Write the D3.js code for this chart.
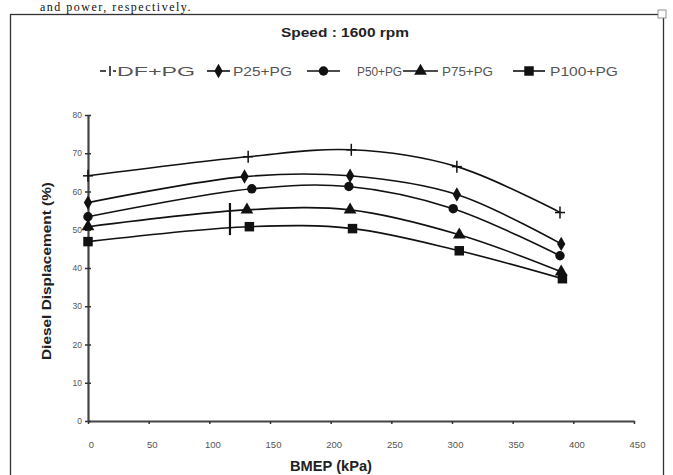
<!DOCTYPE html>
<html><head><meta charset="utf-8">
<script src="https://cdn.jsdelivr.net/npm/d3@7"></script>
<style>body{margin:0;background:#fff}svg{display:block}</style>
</head><body>
<svg id="c" width="673" height="475"></svg>
<script>
const bmep = [0, 132, 217, 304, 389];
const bmepP25 = [0, 129, 216, 304, 390];
const bmepP50 = [0, 135, 215, 301, 389];
const bmepP75 = [0, 131, 216, 306, 390];
const bmepP100 = [0, 133, 218, 306, 391];
const dfPG = [64.1, 69.1, 70.9, 66.5, 54.5];
const p25PG = [57.1, 63.9, 64.1, 59.2, 46.3];
const p50PG = [53.4, 60.7, 61.3, 55.5, 43.2];
const p75PG = [50.8, 55.2, 55.2, 48.7, 39.0];
const p100PG = [46.9, 50.8, 50.3, 44.5, 37.2];
const seriesNames = ["DF+PG", "P25+PG", "P50+PG", "P75+PG", "P100+PG"];
const xTicks = [0, 50, 100, 150, 200, 250, 300, 350, 400, 450];
const yTicks = [0, 10, 20, 30, 40, 50, 60, 70, 80];
const strayBar = {x: 117, y0: 48.6, y1: 57};

const svg = d3.select("#c");
const x = d3.scaleLinear().domain([0, 450]).range([88, 634]);
const y = d3.scaleLinear().domain([0, 80]).range([421, 115]);
const FONT = "Liberation Sans, Arial";

// document text above
svg.append("text").attr("x", 40).attr("y", 11).attr("font-family", "Liberation Serif")
  .attr("font-size", 12).attr("fill", "#111").attr("letter-spacing", 1.5)
  .text("and power, respectively.");

// frame
svg.append("rect").attr("x", 10.5).attr("y", 14.5).attr("width", 653).attr("height", 480)
  .attr("fill", "none").attr("stroke", "#333").attr("stroke-width", 1.3);
svg.append("rect").attr("x", 658).attr("y", 10).attr("width", 8).attr("height", 8)
  .attr("fill", "#fff").attr("stroke", "#777").attr("stroke-width", 0.8);

// title
svg.append("text").attr("x", 345).attr("y", 37).attr("text-anchor", "middle")
  .attr("font-family", FONT).attr("font-weight", "bold").attr("font-size", 13)
  .attr("fill", "#222").attr("textLength", 128).attr("lengthAdjust", "spacingAndGlyphs")
  .text("Speed : 1600  rpm");

// axes
const gx = svg.append("g").attr("transform", `translate(0,${y(0)})`)
  .call(d3.axisBottom(x).tickValues(xTicks).tickSize(3).tickSizeOuter(0).tickPadding(17));
const gy = svg.append("g").attr("transform", `translate(${x(0)},0)`)
  .call(d3.axisLeft(y).tickValues(yTicks).tickSize(3).tickSizeOuter(0).tickPadding(3));
[gx, gy].forEach(g => {
  g.select(".domain").attr("stroke", "#444").attr("stroke-width", 2.2);
  g.selectAll(".tick line").attr("stroke", "#333").attr("stroke-width", 1.5);
  g.selectAll(".tick text").attr("font-family", FONT).attr("fill", "#555");
});
gx.selectAll(".tick text").attr("font-size", 9.5).attr("dx", 3);
gy.selectAll(".tick text").attr("font-size", 8.5);
gy.selectAll(".tick").append("line").attr("x2", 3).attr("stroke", "#333").attr("stroke-width", 1.5);

svg.append("text").attr("transform", "translate(51,271) rotate(-90)").attr("text-anchor", "middle")
  .attr("font-family", FONT).attr("font-weight", "bold").attr("font-size", 12)
  .attr("fill", "#222").attr("textLength", 178).attr("lengthAdjust", "spacingAndGlyphs")
  .text("Diesel Displacement (%)");
svg.append("text").attr("x", 331).attr("y", 471).attr("text-anchor", "middle")
  .attr("font-family", FONT).attr("font-weight", "bold").attr("font-size", 14)
  .attr("fill", "#222").attr("textLength", 82).attr("lengthAdjust", "spacingAndGlyphs")
  .text("BMEP (kPa)");

// series
const xsArr = [bmep, bmepP25, bmepP50, bmepP75, bmepP100];
const ysArr = [dfPG, p25PG, p50PG, p75PG, p100PG];
const symTypes = [d3.symbolCross, d3.symbolDiamond, d3.symbolCircle, d3.symbolTriangle, d3.symbolSquare];
const symSizes = [0, 60, 70, 70, 90];
const line = d3.line().x(d => x(d[0])).y(d => y(d[1])).curve(d3.curveCatmullRom.alpha(0.5));

function drawMarker(g, i, cx, cy) {
  if (i === 0) {
    g.append("line").attr("x1", cx).attr("x2", cx).attr("y1", cy - 6).attr("y2", cy + 6)
      .attr("stroke", "#111").attr("stroke-width", 1.5);
    g.append("line").attr("x1", cx - 5).attr("x2", cx + 5).attr("y1", cy).attr("y2", cy)
      .attr("stroke", "#111").attr("stroke-width", 1.5);
  } else {
    g.append("path").attr("d", d3.symbol().type(symTypes[i]).size(symSizes[i])())
      .attr("transform", `translate(${cx},${cy})`).attr("fill", "#111");
  }
}

ysArr.forEach((ys, i) => {
  const pts = ys.map((v, j) => [xsArr[i][j], v]);
  svg.append("path").datum(pts).attr("d", line).attr("fill", "none")
    .attr("stroke", "#111").attr("stroke-width", 1.6);
  const g = svg.append("g");
  pts.forEach(p => drawMarker(g, i, x(p[0]), y(p[1])));
});

// stray bar in reference
svg.append("line").attr("x1", x(strayBar.x)).attr("x2", x(strayBar.x))
  .attr("y1", y(strayBar.y1)).attr("y2", y(strayBar.y0)).attr("stroke", "#111").attr("stroke-width", 2.2);

// legend
const legX = [[100, 120, 117], [207, 230, 233], [307, 340, 357], [403, 438, 442], [513, 545, 550]];
const legW = [78, 59, 45, 51, 68];
const legY = 71;
const lg = svg.append("g");
seriesNames.forEach((n, i) => {
  const [a, b, t] = legX[i];
  if (i === 0) {
    lg.append("line").attr("x1", a).attr("x2", a + 6).attr("y1", legY).attr("y2", legY).attr("stroke", "#111").attr("stroke-width", 1.5);
    lg.append("line").attr("x1", a + 10).attr("x2", a + 10).attr("y1", legY - 5).attr("y2", legY + 5).attr("stroke", "#111").attr("stroke-width", 1.5);
    lg.append("line").attr("x1", a + 13).attr("x2", a + 16).attr("y1", legY).attr("y2", legY).attr("stroke", "#111").attr("stroke-width", 1.5);
  } else {
    lg.append("line").attr("x1", a).attr("x2", b).attr("y1", legY).attr("y2", legY).attr("stroke", "#111").attr("stroke-width", 1.6);
    drawMarker(lg, i, (a + b) / 2, legY);
  }
  lg.append("text").attr("x", t).attr("y", legY + 4.5).attr("font-family", FONT)
    .attr("font-size", 12.5).attr("fill", "#555").attr("textLength", legW[i]).attr("lengthAdjust", "spacingAndGlyphs")
    .text(n);
});
</script>
</body></html>
